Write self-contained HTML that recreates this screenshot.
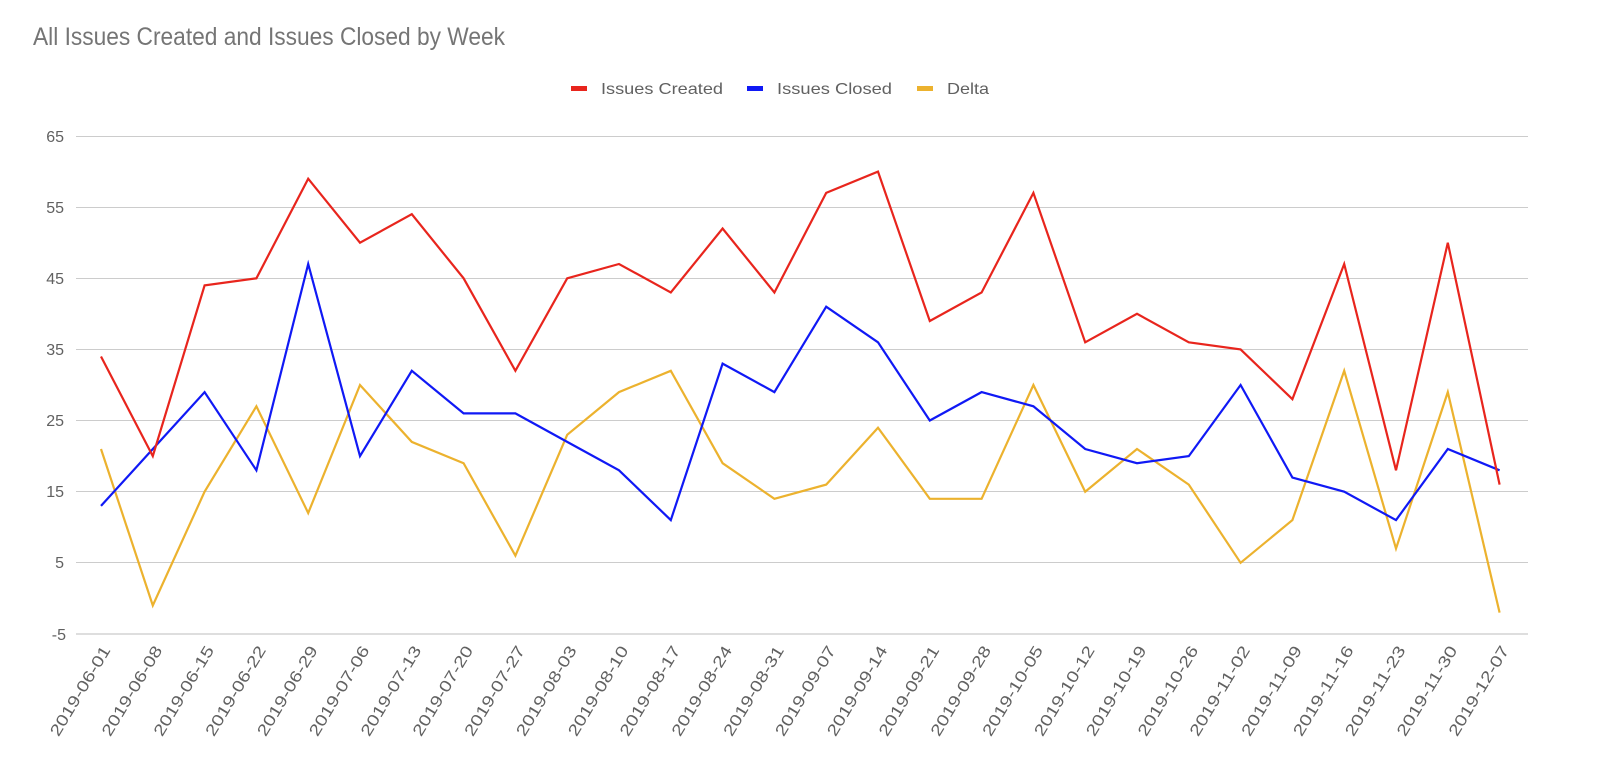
<!DOCTYPE html>
<html><head><meta charset="utf-8"><style>body{margin:0;background:#fff}svg{display:block}</style></head>
<body>
<svg width="1600" height="758" xmlns="http://www.w3.org/2000/svg" font-family="Liberation Sans, sans-serif">
<rect width="1600" height="758" fill="#fff"/>
<text x="33" y="45" font-size="25" fill="#757575" textLength="472" lengthAdjust="spacingAndGlyphs">All Issues Created and Issues Closed by Week</text>
<g font-size="16" fill="#616161">
<rect x="571" y="86" width="16" height="5" fill="#e8251d"/><text x="601" y="94" textLength="122" lengthAdjust="spacingAndGlyphs">Issues Created</text>
<rect x="747" y="86" width="16" height="5" fill="#1019f5"/><text x="777" y="94" textLength="115" lengthAdjust="spacingAndGlyphs">Issues Closed</text>
<rect x="917" y="86" width="16" height="5" fill="#ecb22e"/><text x="947" y="94" textLength="42" lengthAdjust="spacingAndGlyphs">Delta</text>
</g>
<g stroke="#cccccc" stroke-width="1">
<line x1="76" x2="1528" y1="136.5" y2="136.5"/><line x1="76" x2="1528" y1="207.5" y2="207.5"/><line x1="76" x2="1528" y1="278.5" y2="278.5"/><line x1="76" x2="1528" y1="349.5" y2="349.5"/><line x1="76" x2="1528" y1="420.5" y2="420.5"/><line x1="76" x2="1528" y1="491.5" y2="491.5"/><line x1="76" x2="1528" y1="562.5" y2="562.5"/>
<line x1="76" x2="1528" y1="634" y2="634" stroke="#bdbdbd"/>
</g>
<g font-size="16" fill="#616161" text-anchor="end">
<text x="64" y="142">65</text><text x="64" y="213">55</text><text x="64" y="284">45</text><text x="64" y="355">35</text><text x="64" y="426">25</text><text x="64" y="497">15</text><text x="64" y="568">5</text><text x="66" y="640">-5</text>
</g>
<g font-size="16" fill="#616161" text-anchor="end">
<text transform="translate(111,650) rotate(-59)" textLength="102" lengthAdjust="spacingAndGlyphs">2019-06-01</text>
<text transform="translate(162.8,650) rotate(-59)" textLength="102" lengthAdjust="spacingAndGlyphs">2019-06-08</text>
<text transform="translate(214.6,650) rotate(-59)" textLength="102" lengthAdjust="spacingAndGlyphs">2019-06-15</text>
<text transform="translate(266.4,650) rotate(-59)" textLength="102" lengthAdjust="spacingAndGlyphs">2019-06-22</text>
<text transform="translate(318.2,650) rotate(-59)" textLength="102" lengthAdjust="spacingAndGlyphs">2019-06-29</text>
<text transform="translate(370,650) rotate(-59)" textLength="102" lengthAdjust="spacingAndGlyphs">2019-07-06</text>
<text transform="translate(421.8,650) rotate(-59)" textLength="102" lengthAdjust="spacingAndGlyphs">2019-07-13</text>
<text transform="translate(473.6,650) rotate(-59)" textLength="102" lengthAdjust="spacingAndGlyphs">2019-07-20</text>
<text transform="translate(525.4,650) rotate(-59)" textLength="102" lengthAdjust="spacingAndGlyphs">2019-07-27</text>
<text transform="translate(577.2,650) rotate(-59)" textLength="102" lengthAdjust="spacingAndGlyphs">2019-08-03</text>
<text transform="translate(629,650) rotate(-59)" textLength="102" lengthAdjust="spacingAndGlyphs">2019-08-10</text>
<text transform="translate(680.8,650) rotate(-59)" textLength="102" lengthAdjust="spacingAndGlyphs">2019-08-17</text>
<text transform="translate(732.6,650) rotate(-59)" textLength="102" lengthAdjust="spacingAndGlyphs">2019-08-24</text>
<text transform="translate(784.4,650) rotate(-59)" textLength="102" lengthAdjust="spacingAndGlyphs">2019-08-31</text>
<text transform="translate(836.2,650) rotate(-59)" textLength="102" lengthAdjust="spacingAndGlyphs">2019-09-07</text>
<text transform="translate(888,650) rotate(-59)" textLength="102" lengthAdjust="spacingAndGlyphs">2019-09-14</text>
<text transform="translate(939.8,650) rotate(-59)" textLength="102" lengthAdjust="spacingAndGlyphs">2019-09-21</text>
<text transform="translate(991.6,650) rotate(-59)" textLength="102" lengthAdjust="spacingAndGlyphs">2019-09-28</text>
<text transform="translate(1043.4,650) rotate(-59)" textLength="102" lengthAdjust="spacingAndGlyphs">2019-10-05</text>
<text transform="translate(1095.2,650) rotate(-59)" textLength="102" lengthAdjust="spacingAndGlyphs">2019-10-12</text>
<text transform="translate(1147,650) rotate(-59)" textLength="102" lengthAdjust="spacingAndGlyphs">2019-10-19</text>
<text transform="translate(1198.8,650) rotate(-59)" textLength="102" lengthAdjust="spacingAndGlyphs">2019-10-26</text>
<text transform="translate(1250.6,650) rotate(-59)" textLength="102" lengthAdjust="spacingAndGlyphs">2019-11-02</text>
<text transform="translate(1302.4,650) rotate(-59)" textLength="102" lengthAdjust="spacingAndGlyphs">2019-11-09</text>
<text transform="translate(1354.2,650) rotate(-59)" textLength="102" lengthAdjust="spacingAndGlyphs">2019-11-16</text>
<text transform="translate(1406,650) rotate(-59)" textLength="102" lengthAdjust="spacingAndGlyphs">2019-11-23</text>
<text transform="translate(1457.8,650) rotate(-59)" textLength="102" lengthAdjust="spacingAndGlyphs">2019-11-30</text>
<text transform="translate(1509.6,650) rotate(-59)" textLength="102" lengthAdjust="spacingAndGlyphs">2019-12-07</text>
</g>
<g fill="none" stroke-width="2.2" stroke-linejoin="miter">
<polyline stroke="#ecb22e" points="101,449 152.8,605.5 204.6,491.7 256.4,406.3 308.2,513 360,385 411.8,441.9 463.6,463.2 515.4,555.7 567.2,434.8 619,392.1 670.8,370.8 722.6,463.2 774.4,498.8 826.2,484.6 878,427.7 929.8,498.8 981.6,498.8 1033.4,385 1085.2,491.7 1137,449 1188.8,484.6 1240.6,562.8 1292.4,520.1 1344.2,370.8 1396,548.6 1447.8,392.1 1499.6,612.6"/>
<polyline stroke="#1019f5" points="101,505.9 152.8,449 204.6,392.1 256.4,470.3 308.2,264 360,456.1 411.8,370.8 463.6,413.4 515.4,413.4 567.2,441.9 619,470.3 670.8,520.1 722.6,363.6 774.4,392.1 826.2,306.7 878,342.3 929.8,420.5 981.6,392.1 1033.4,406.3 1085.2,449 1137,463.2 1188.8,456.1 1240.6,385 1292.4,477.5 1344.2,491.7 1396,520.1 1447.8,449 1499.6,470.3"/>
<polyline stroke="#e8251d" points="101,356.5 152.8,456.1 204.6,285.4 256.4,278.3 308.2,178.7 360,242.7 411.8,214.2 463.6,278.3 515.4,370.8 567.2,278.3 619,264 670.8,292.5 722.6,228.5 774.4,292.5 826.2,192.9 878,171.6 929.8,321 981.6,292.5 1033.4,192.9 1085.2,342.3 1137,313.8 1188.8,342.3 1240.6,349.4 1292.4,399.2 1344.2,264 1396,470.3 1447.8,242.7 1499.6,484.6"/>
</g>
</svg>
</body></html>
